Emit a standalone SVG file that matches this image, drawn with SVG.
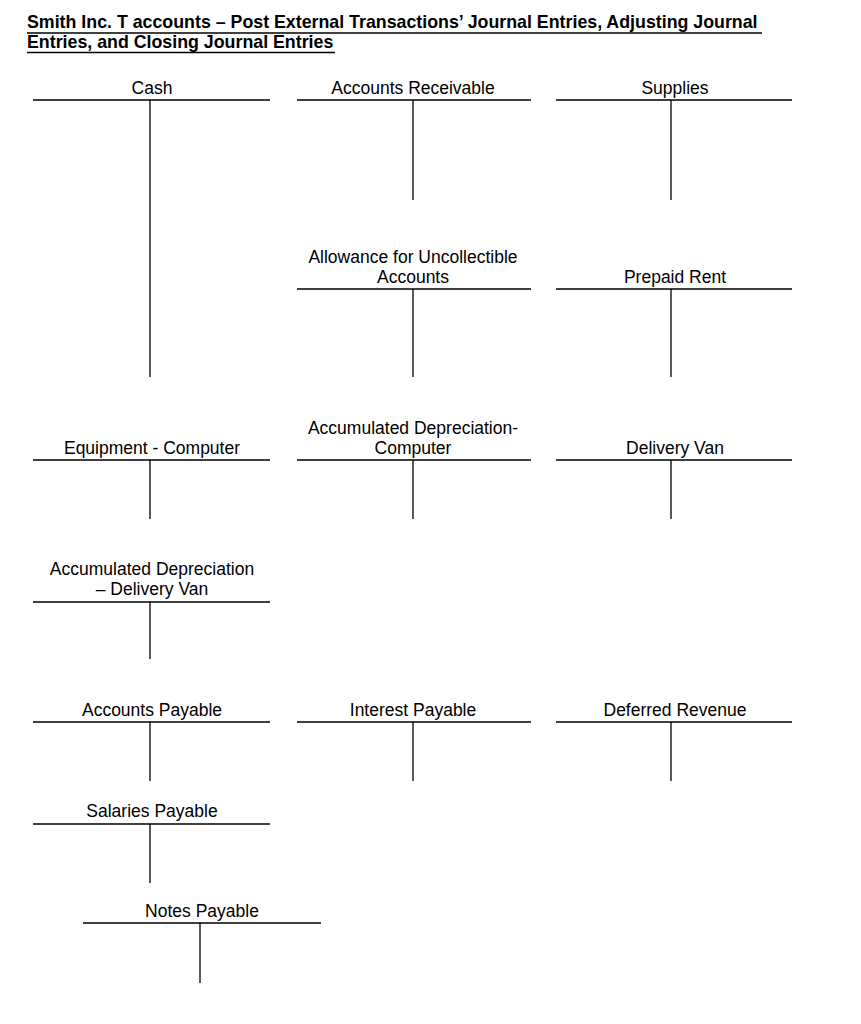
<svg xmlns="http://www.w3.org/2000/svg" width="861" height="1024" viewBox="0 0 861 1024">
<style>
.t{font-family:"Liberation Sans",Arial,sans-serif;font-size:17.5px;fill:#000;text-anchor:middle}
.h{font-family:"Liberation Sans",Arial,sans-serif;font-size:17.8px;font-weight:bold;fill:#000}
.l{stroke:#000;stroke-width:1.3;fill:none}
</style>
<rect width="861" height="1024" fill="#fff"/>
<g id="title">
<text class="h" x="27" y="28">Smith Inc. T accounts – Post External Transactions’ Journal Entries, Adjusting Journal</text>
<text class="h" x="27" y="47.5">Entries, and Closing Journal Entries</text>
<line class="l" x1="27" y1="33" x2="762" y2="33"/>
<line class="l" x1="27" y1="52.5" x2="335" y2="52.5"/>
</g>
<g id="cash"><text class="t" x="152" y="94">Cash</text><path class="l" d="M33 100H270M150 100V377"/></g>
<g id="ar"><text class="t" x="413" y="94">Accounts Receivable</text><path class="l" d="M297 100H531M413 100V200"/></g>
<g id="supplies"><text class="t" x="675" y="94">Supplies</text><path class="l" d="M556 100H792M671 100V200"/></g>
<g id="allowance"><text class="t" x="413" y="263">Allowance for Uncollectible</text><text class="t" x="413" y="283">Accounts</text><path class="l" d="M297 289H531M413 289V377"/></g>
<g id="prepaid"><text class="t" x="675" y="283">Prepaid Rent</text><path class="l" d="M556 289H792M671 289V377"/></g>
<g id="equip"><text class="t" x="152" y="454">Equipment - Computer</text><path class="l" d="M33 460H270M150 460V519"/></g>
<g id="adcomp"><text class="t" x="413" y="434">Accumulated Depreciation-</text><text class="t" x="413" y="454">Computer</text><path class="l" d="M297 460H531M413 460V519"/></g>
<g id="van"><text class="t" x="675" y="454">Delivery Van</text><path class="l" d="M556 460H792M671 460V519"/></g>
<g id="advan"><text class="t" x="152" y="575">Accumulated Depreciation</text><text class="t" x="152" y="595">– Delivery Van</text><path class="l" d="M33 602H270M150 602V659"/></g>
<g id="ap"><text class="t" x="152" y="716">Accounts Payable</text><path class="l" d="M33 722H270M150 722V781"/></g>
<g id="ip"><text class="t" x="413" y="716">Interest Payable</text><path class="l" d="M297 722H531M413 722V781"/></g>
<g id="dr"><text class="t" x="675" y="716">Deferred Revenue</text><path class="l" d="M556 722H792M671 722V781"/></g>
<g id="sp"><text class="t" x="152" y="817">Salaries Payable</text><path class="l" d="M33 824H270M150 824V883"/></g>
<g id="np"><text class="t" x="202" y="917">Notes Payable</text><path class="l" d="M83 923H321M200 923V983"/></g>
<g id="connectors"/>
</svg>
